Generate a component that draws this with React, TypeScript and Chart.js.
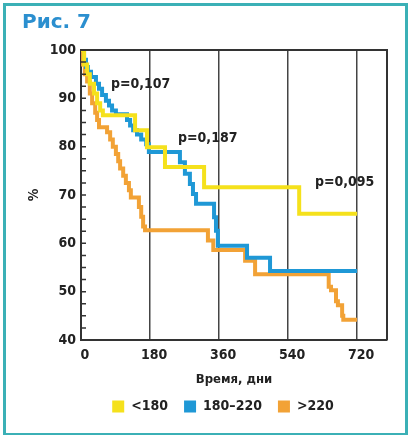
import React, { useEffect, useRef } from "react";
import { Chart, registerables } from "chart.js";

Chart.register(...registerables);

// ---- data ----
const seriesLabels = ["<180", "180–220", ">220"];
const seriesColors = ["#f5e11c", "#1f98d6", "#f2a236"];

const yellowDays = [0, 8, 16, 23, 34, 42, 50, 57, 141, 172, 219, 321, 569, 720];
const yellowValues = [100, 97, 95, 93, 91, 89, 87.5, 86.5, 83.4, 79.9, 75.8, 71.6, 66.1, 66.1];

const blueDays = [0, 8, 13, 18, 26, 39, 47, 55, 65, 73, 81, 91, 120, 128, 136, 146, 157, 170, 177, 258, 271, 284, 292, 300, 347, 352, 357, 433, 493, 720];
const blueValues = [100, 98, 96.5, 95.5, 94.4, 93, 92, 90.7, 89.5, 88.5, 87.5, 86.7, 85.5, 84.4, 83.4, 82.5, 81.5, 80.5, 78.9, 76.8, 74.4, 72.3, 70.2, 68.2, 65.4, 62.6, 59.5, 57, 54.3, 54.3];

const orangeDays = [0, 5, 10, 16, 23, 29, 37, 42, 47, 68, 76, 83, 91, 97, 102, 110, 117, 125, 130, 151, 157, 162, 167, 331, 345, 428, 454, 646, 652, 665, 670, 681, 684, 720];
const orangeValues = [100, 97, 95, 93.5, 91, 89, 87, 85.5, 84, 83, 81.5, 80, 78.5, 77, 75.5, 74, 72.5, 71, 69.5, 67.5, 65.5, 63.5, 62.7, 60.6, 58.6, 56.4, 53.6, 51, 50.3, 48, 47.2, 45, 44.2, 44.2];

const xTickValues = [0, 180, 360, 540, 720];
const yMinorStep = 2.5;

const pLabels = ["p=0,107", "p=0,187", "p=0,095"];
const pLabelDays = [78, 253, 610];
const pLabelValues = [92.9, 81.7, 72.6];

const titleText = "Рис. 7";
const xTitle = "Время, дни";
const yTitle = "%";

const FONT = "'DejaVu Sans Condensed', 'DejaVu Sans', sans-serif";
const TEXT = "#222";

function toPoints(days: number[], values: number[]) {
  return days.map((d, i) => ({ x: d, y: values[i] }));
}

const extrasPlugin = {
  id: "extras",
  afterLayout(chart: any) {
    const lg = chart.legend;
    if (lg) {
      lg.left -= 11;
      lg.right -= 11;
      lg.top -= 4;
      lg.bottom -= 4;
    }
  },
  afterDatasetsDraw(chart: any) {
    const { ctx, chartArea, scales } = chart;
    const xs = scales.x;
    const ys = scales.y;
    ctx.save();
    // frame: top + right
    ctx.strokeStyle = "#333";
    ctx.lineWidth = 2;
    ctx.beginPath();
    ctx.moveTo(chartArea.left, chartArea.top);
    ctx.lineTo(chartArea.right, chartArea.top);
    ctx.lineTo(chartArea.right, chartArea.bottom);
    ctx.stroke();
    // minor ticks on y axis (inside)
    ctx.lineWidth = 1.5;
    ctx.beginPath();
    for (let v = ys.min; v <= ys.max + 1e-6; v += yMinorStep) {
      const y = ys.getPixelForValue(v);
      ctx.moveTo(chartArea.left, y);
      ctx.lineTo(chartArea.left + 5, y);
    }
    ctx.stroke();
    // p labels
    ctx.fillStyle = TEXT;
    ctx.font = `bold 14px ${FONT}`;
    ctx.textAlign = "left";
    ctx.textBaseline = "middle";
    pLabels.forEach((t, i) => {
      ctx.fillText(t, xs.getPixelForValue(pLabelDays[i]), ys.getPixelForValue(pLabelValues[i]));
    });
    ctx.restore();
  },
};

export default function App() {
  const ref = useRef<HTMLCanvasElement | null>(null);

  useEffect(() => {
    if (!ref.current) return;
    const mk = (i: number, days: number[], values: number[]) => ({
      label: seriesLabels[i],
      data: toPoints(days, values),
      borderColor: seriesColors[i],
      backgroundColor: seriesColors[i],
      borderWidth: 4,
      pointRadius: 0,
      stepped: true as const,
      fill: false,
      tension: 0,
      borderJoinStyle: "miter" as const,
    });
    const chart = new Chart(ref.current, {
      type: "line",
      data: {
        datasets: [
          mk(0, yellowDays, yellowValues),
          mk(1, blueDays, blueValues),
          mk(2, orangeDays, orangeValues),
        ],
      },
      options: {
        animation: false,
        responsive: false,
        maintainAspectRatio: false,
        layout: { padding: { left: 26, right: 22, top: 50, bottom: 7.5 } },
        plugins: {
          tooltip: { enabled: false },
          legend: {
            position: "bottom",
            fullSize: false,
            labels: {
              boxWidth: 12,
              boxHeight: 12,
              padding: 16,
              color: TEXT,
              font: { family: FONT, size: 14, weight: "bold" },
              generateLabels: (c: any) =>
                Chart.defaults.plugins.legend.labels.generateLabels(c).map((l: any) => ({
                  ...l,
                  lineWidth: 0,
                  fillStyle: l.strokeStyle,
                })),
            },
          },
        },
        scales: {
          x: {
            type: "linear",
            min: 0,
            max: 798,
            afterBuildTicks: (s: any) => {
              s.ticks = xTickValues.map((v) => ({ value: v }));
            },
            afterFit: (s: any) => {
              s.height = 47.5;
            },
            ticks: {
              color: TEXT,
              font: { family: FONT, size: 14, weight: "bold" },
              padding: 7,
              labelOffset: 4,
              maxRotation: 0,
              autoSkip: false,
            },
            grid: { color: "#444", lineWidth: 1.5, drawTicks: false },
            border: { display: true, color: "#333", width: 2 },
            title: {
              display: true,
              text: xTitle,
              color: TEXT,
              font: { family: FONT, size: 13, weight: "bold" },
              padding: 0,
            },
          },
          y: {
            min: 40,
            max: 100,
            afterFit: (s: any) => {
              s.width = 55;
            },
            ticks: {
              stepSize: 10,
              color: TEXT,
              font: { family: FONT, size: 14, weight: "bold" },
              padding: 5,
            },
            grid: { display: true, drawOnChartArea: false, drawTicks: false },
            border: { display: true, color: "#333", width: 2 },
            title: {
              display: true,
              text: yTitle,
              color: TEXT,
              font: { family: FONT, size: 14, weight: "bold" },
              padding: 0,
            },
          },
        },
      },
      plugins: [extrasPlugin],
    });
    return () => chart.destroy();
  }, []);

  return (
    <div style={{ position: "fixed", left: 0, top: 0, width: 409, height: 435, background: "#fff" }}>
      <div
        style={{
          position: "absolute",
          left: 3,
          top: 3,
          width: 399,
          height: 427,
          border: "3px solid #3bb0b6",
          boxSizing: "content-box",
        }}
      />
      <canvas ref={ref} width={409} height={435} style={{ position: "absolute", left: 0, top: 0 }} />
      <div
        style={{
          position: "absolute",
          left: 22,
          top: 11,
          fontFamily: "'DejaVu Sans', sans-serif",
          fontWeight: "bold",
          fontSize: 20,
          lineHeight: "20px",
          color: "#2b8fcf",
          whiteSpace: "nowrap",
        }}
      >
        {titleText}
      </div>
    </div>
  );
}
